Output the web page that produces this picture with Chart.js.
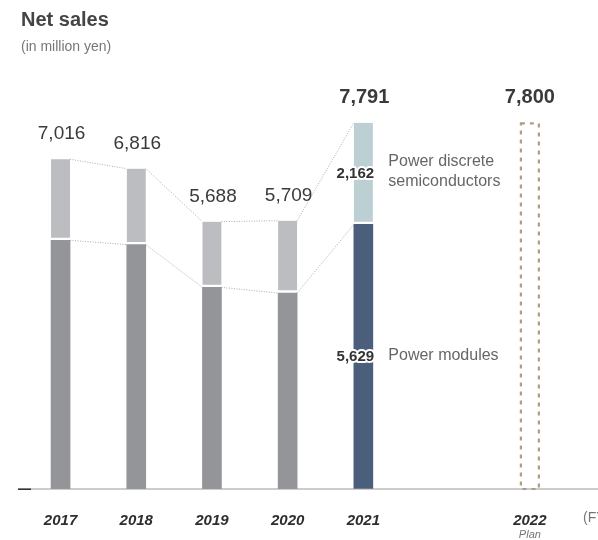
<!DOCTYPE html>
<html>
<head>
<meta charset="utf-8">
<script src="https://cdn.jsdelivr.net/npm/chart.js@4.4.1/dist/chart.umd.min.js"></script>
<style>
  html, body { margin: 0; padding: 0; background: #fff; }
  canvas { display: block; }
</style>
</head>
<body>
<canvas id="sales" width="598" height="540"></canvas>
<script>
// fiscal years and where they sit on the x axis (plan year set apart)
const fiscalYears = ["2017", "2018", "2019", "2020", "2021"];
const yearPos = [0, 1, 2, 3, 4];
const planYear = "2022";
const planPos = 6.2;

// net sales, million yen
const powerModules = [5290, 5200, 4290, 4170, 5629];
const powerDiscrete = [1726, 1616, 1398, 1539, 2162];
const planTotal = [7800];

const moduleColors = ["#939598", "#939598", "#939598", "#939598", "#4b5f7d"];
const discreteColors = ["#bcbdc0", "#bcbdc0", "#bcbdc0", "#bcbdc0", "#bccfd2"];

const fmt = v => v.toLocaleString("en-US");
const FONT = "'Liberation Sans', Arial, sans-serif";

const overlay = {
    id: "overlay",
    afterDatasetsDraw(chart) {
        const ctx = chart.ctx;
        const modMeta = chart.getDatasetMeta(0).data;
        const disMeta = chart.getDatasetMeta(1).data;
        const planBar = chart.getDatasetMeta(2).data[0];

        // dotted connectors between neighbouring bars
        ctx.save();
        ctx.strokeStyle = "#8a8a8a";
        ctx.lineWidth = 0.7;
        ctx.setLineDash([1, 1.5]);
        for (let i = 0; i < modMeta.length - 1; i++) {
            const pairs = [[disMeta[i], disMeta[i + 1]], [modMeta[i], modMeta[i + 1]]];
            pairs.forEach(([a, b]) => {
                ctx.beginPath();
                ctx.moveTo(a.x + a.width / 2, a.y);
                ctx.lineTo(b.x - b.width / 2, b.y);
                ctx.stroke();
            });
        }
        ctx.restore();

        // dashed outline for the plan bar
        ctx.save();
        ctx.strokeStyle = "#b39c82";
        ctx.lineWidth = 2.2;
        ctx.setLineDash([4, 5]);
        const pl = planBar.x - planBar.width / 2, pr = planBar.x + planBar.width / 2;
        ctx.strokeRect(pl + 1, planBar.y + 1, pr - pl - 2, planBar.base - planBar.y - 1);
        ctx.restore();

        ctx.save();
        ctx.textAlign = "center";
        ctx.textBaseline = "middle";

        // totals above bars
        for (let i = 0; i < fiscalYears.length; i++) {
            const total = powerModules[i] + powerDiscrete[i];
            const last = i === fiscalYears.length - 1;
            ctx.fillStyle = "#3a3a3a";
            ctx.font = (last ? "bold 20px " : "19px ") + FONT;
            ctx.fillText(fmt(total), disMeta[i].x + 1, disMeta[i].y - 25);
        }
        ctx.font = "bold 20px " + FONT;
        ctx.fillText(fmt(planTotal[0]), planBar.x, planBar.y - 25);

        // segment values inside the 2021 bar
        const k = fiscalYears.length - 1;
        ctx.font = "bold 15px " + FONT;
        ctx.lineJoin = "round";
        ctx.lineWidth = 4;
        ctx.strokeStyle = "#fff";
        [[disMeta[k], powerDiscrete[k]], [modMeta[k], powerModules[k]]].forEach(([bar, v]) => {
            const cy = (bar.y + bar.base) / 2;
            ctx.strokeText(fmt(v), bar.x - 8, cy);
            ctx.fillStyle = "#333";
            ctx.fillText(fmt(v), bar.x - 8, cy);
        });

        // segment names to the right of 2021
        ctx.textAlign = "left";
        ctx.font = "16px " + FONT;
        ctx.fillStyle = "#666";
        const dcy = (disMeta[k].y + disMeta[k].base) / 2;
        ctx.fillText("Power discrete", disMeta[k].x + 25, dcy - 12);
        ctx.fillText("semiconductors", disMeta[k].x + 25, dcy + 8);
        ctx.fillText("Power modules", modMeta[k].x + 25, (modMeta[k].y + modMeta[k].base) / 2 - 1);
        ctx.restore();
    },
    afterDraw(chart) {
        const ctx = chart.ctx;
        const xs = chart.scales.x;
        const base = chart.scales.y.getPixelForValue(0);

        // axis line
        ctx.save();
        ctx.fillStyle = "#9a9a9a";
        ctx.fillRect(18, Math.round(base) - 0.5, 598 - 18, 1);
        ctx.fillStyle = "#333";
        ctx.fillRect(18, Math.round(base) - 0.5, 13, 1.5);

        ctx.textBaseline = "middle";
        ctx.fillStyle = "#777";
        ctx.font = "italic 11px " + FONT;
        ctx.textAlign = "center";
        ctx.fillText("Plan", xs.getPixelForValue(planPos), 535);
        ctx.textAlign = "left";
        ctx.font = "14px " + FONT;
        ctx.fillText("(FY)", 583, 518);

        // heading
        ctx.fillStyle = "#444";
        ctx.font = "bold 20px " + FONT;
        ctx.fillText("Net sales", 21, 20);
        ctx.fillStyle = "#777";
        ctx.font = "14px " + FONT;
        ctx.fillText("(in million yen)", 21, 47);
        ctx.restore();
    }
};

const allPos = yearPos.concat([planPos]);
const allLabels = fiscalYears.concat([planYear]);

new Chart(document.getElementById("sales"), {
    type: "bar",
    data: {
        datasets: [
            {
                label: "Power modules",
                data: yearPos.map((x, i) => ({ x: x, y: powerModules[i] })),
                backgroundColor: moduleColors,
                barThickness: 19
            },
            {
                label: "Power discrete semiconductors",
                data: yearPos.map((x, i) => ({ x: x, y: powerDiscrete[i] })),
                backgroundColor: discreteColors,
                borderColor: "#fff",
                borderWidth: { top: 0, left: 0, right: 0, bottom: 3 },
                borderSkipped: false,
                barThickness: 19
            },
            {
                label: "Plan",
                data: [{ x: planPos, y: planTotal[0] }],
                backgroundColor: "rgba(0,0,0,0)",
                barThickness: 20
            }
        ]
    },
    options: {
        responsive: false,
        animation: false,
        events: [],
        layout: { padding: { top: 66, bottom: 0, left: 0, right: 0 } },
        plugins: { legend: { display: false }, tooltip: { enabled: false } },
        scales: {
            x: {
                type: "linear",
                stacked: true,
                offset: false,
                min: -0.8,
                max: 7.1,
                afterBuildTicks: scale => { scale.ticks = allPos.map(v => ({ value: v })); },
                afterFit: scale => { scale.height = 51; },
                ticks: {
                    callback: (v) => allLabels[allPos.indexOf(v)],
                    autoSkip: false,
                    maxRotation: 0,
                    padding: 23,
                    color: "#2e2e2e",
                    font: { family: FONT, size: 15, weight: "bold", style: "italic" }
                },
                grid: { display: false, drawTicks: false },
                border: { display: false }
            },
            y: {
                stacked: true,
                display: false,
                min: 0,
                max: 9000
            }
        }
    },
    plugins: [overlay]
});
</script>
</body>
</html>
